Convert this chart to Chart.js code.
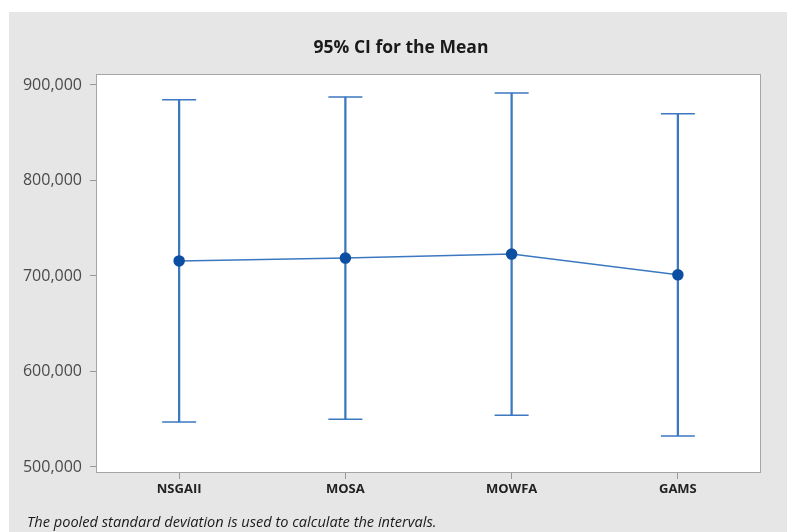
<!DOCTYPE html>
<html>
<head>
<meta charset="utf-8">
<script src="https://cdn.jsdelivr.net/npm/chart.js@4/dist/chart.umd.min.js"></script>
<style>
  html, body { margin: 0; padding: 0; background: #fff; }
  #wrap { position: absolute; left: 9px; top: 12px; width: 778px; height: 520px; background: #e6e6e6; }
  #title { position: absolute; left: 0; width: 784px; top: 22px; text-align: center; line-height: 24px;
           font: bold 17.5px 'Open Sans', sans-serif; color: #1a1a1a; }
  #note { position: absolute; left: 18px; top: 499px; font: italic 14.6px 'Open Sans', sans-serif; color: #1a1a1a; }
</style>
</head>
<body>
<div id="wrap">
  <canvas id="c" width="778" height="520"></canvas>
  <div id="title">95% CI for the Mean</div>
  <div id="note">The pooled standard deviation is used to calculate the intervals.</div>
</div>
<script>
// categories and interval values
const methods = ['NSGAII', 'MOSA', 'MOWFA', 'GAMS'];
const means = [715800, 718700, 722900, 701200];
const lowerCI = [547100, 550000, 554200, 532500];
const upperCI = [884500, 887400, 891600, 869900];
const yTicks = [500000, 600000, 700000, 800000, 900000];

const blue = '#3b78c0';
const darkBlue = '#0b4ea2';

// white plot panel with a thin gray frame
const panel = {
  id: 'panel',
  beforeDatasetsDraw(chart) {
    const { ctx, chartArea: a } = chart;
    ctx.save();
    ctx.fillStyle = '#ffffff';
    ctx.fillRect(a.left, a.top, a.right - a.left, a.bottom - a.top);
    ctx.strokeStyle = '#a6a6a6';
    ctx.lineWidth = 1;
    ctx.strokeRect(a.left + 0.5, a.top + 0.5, a.right - a.left - 1, a.bottom - a.top - 1);
    ctx.restore();
  }
};

new Chart(document.getElementById('c'), {
  data: {
    labels: methods,
    datasets: [
      {
        type: 'line',
        data: means,
        borderColor: blue,
        borderWidth: 1.5,
        pointRadius: 5,
        pointBackgroundColor: darkBlue,
        pointBorderColor: darkBlue,
        tension: 0,
        order: 0
      },
      {
        // interval stems
        type: 'bar',
        data: methods.map((m, i) => [lowerCI[i], upperCI[i]]),
        backgroundColor: blue,
        barThickness: 1.6,
        grouped: false,
        order: 3
      },
      {
        type: 'line',
        data: upperCI,
        showLine: false,
        pointStyle: 'line',
        pointRadius: 17,
        borderColor: blue,
        borderWidth: 1.6,
        order: 2
      },
      {
        type: 'line',
        data: lowerCI,
        showLine: false,
        pointStyle: 'line',
        pointRadius: 17,
        borderColor: blue,
        borderWidth: 1.6,
        order: 2
      }
    ]
  },
  options: {
    responsive: false,
    animation: false,
    layout: { padding: { left: 0, right: 26, top: 62, bottom: 29 } },
    plugins: {
      legend: { display: false },
      tooltip: { enabled: false },
      title: { display: false }
    },
    scales: {
      x: {
        type: 'category',
        offset: true,
        grid: { display: true, offset: false, drawOnChartArea: false, drawTicks: true, tickLength: 6, color: '#999' },
        border: { display: false },
        ticks: {
          color: '#222',
          padding: 2,
          font: { family: 'Open Sans', size: 13, weight: 'bold' }
        },
        afterFit(s) { s.height = 30; }
      },
      y: {
        min: 493700,
        max: 911500,
        grid: { display: true, drawOnChartArea: false, drawTicks: true, tickLength: 6, color: '#999' },
        border: { display: false },
        afterBuildTicks(s) { s.ticks = yTicks.map(v => ({ value: v })); },
        ticks: {
          color: '#4a4a4a',
          padding: 8,
          font: { family: 'Open Sans', size: 16 },
          callback: v => v.toLocaleString('en-US')
        },
        afterFit(s) { s.width = 87; }
      }
    }
  },
  plugins: [panel]
});
</script>
</body>
</html>
